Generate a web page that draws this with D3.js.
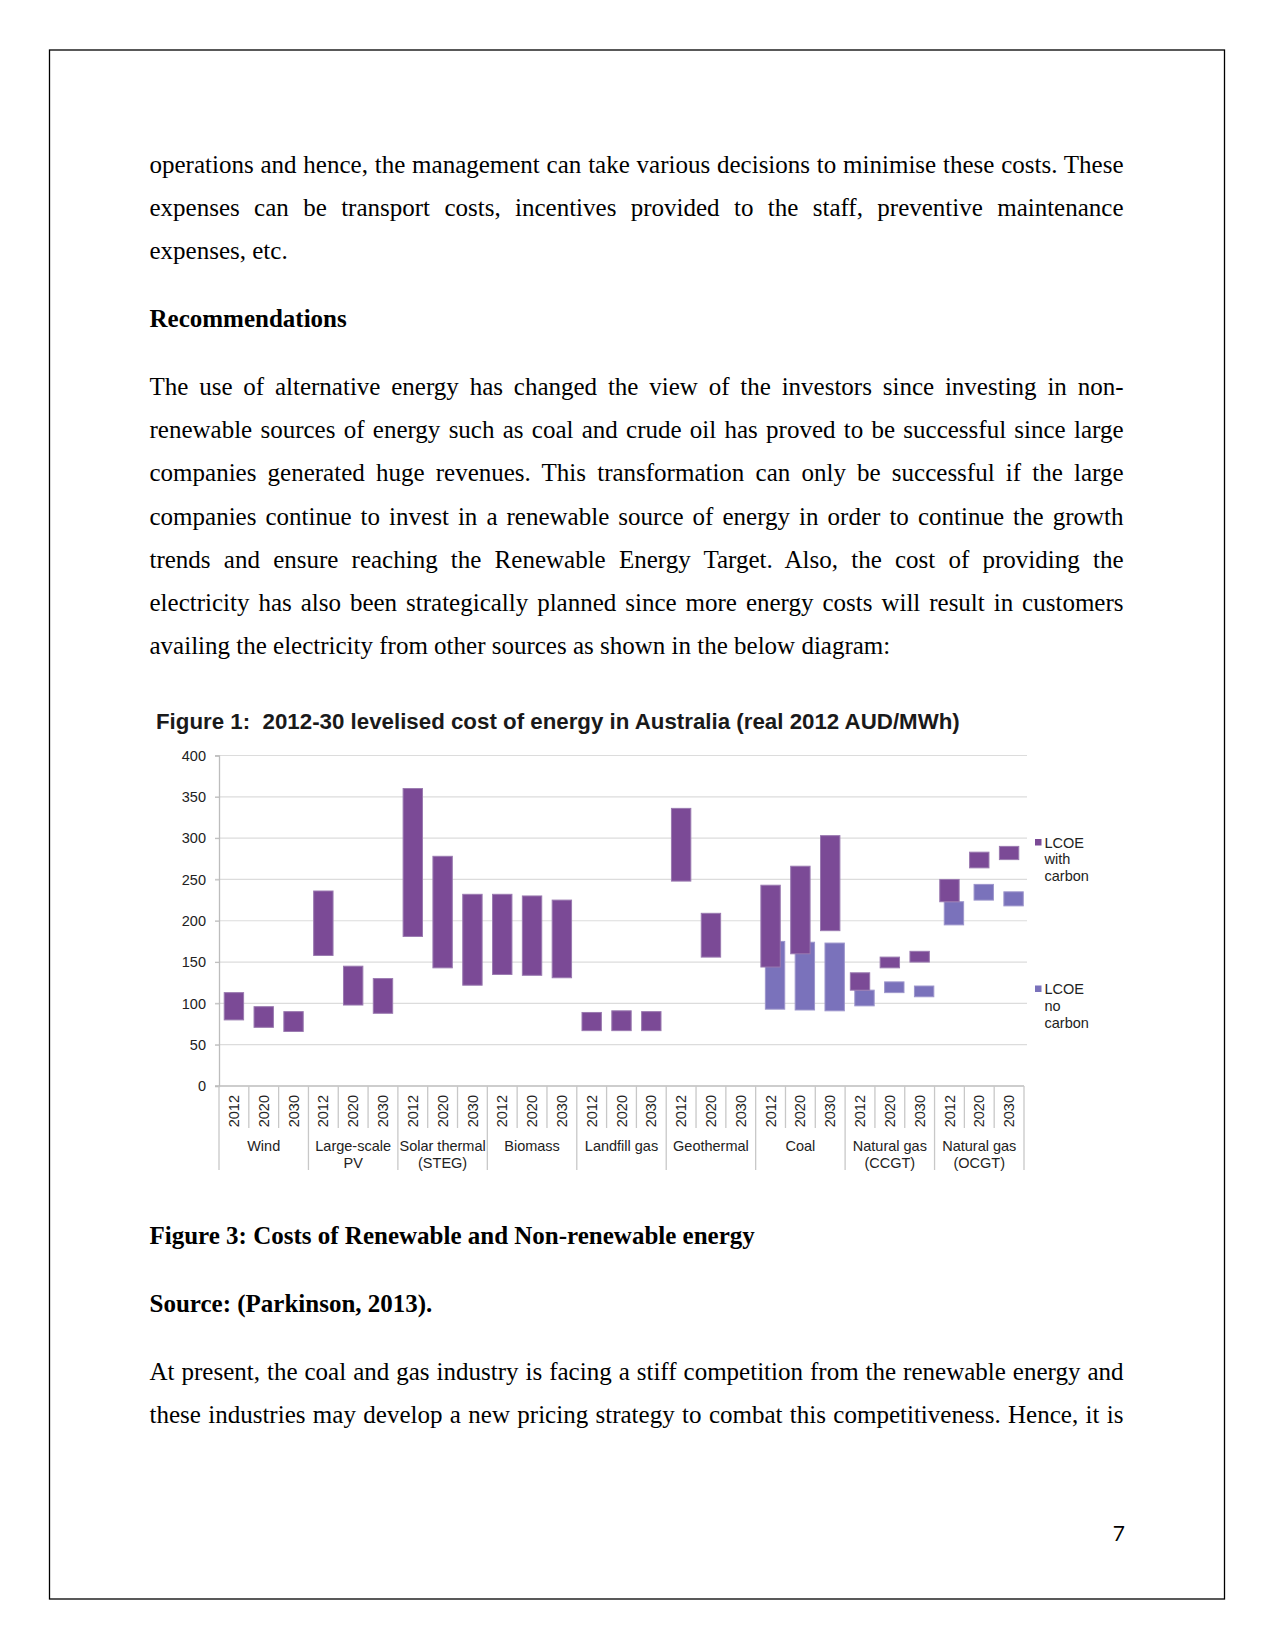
<!DOCTYPE html>
<html>
<head>
<meta charset="utf-8">
<script src="https://cdn.jsdelivr.net/npm/d3@7"></script>
<style>
  html, body { margin: 0; padding: 0; background: #fff; }
  svg { display: block; }
</style>
</head>
<body>
<svg id="page" width="1275" height="1651"></svg>
<script>
// ---------------- DATA ----------------
const groups = ["Wind", "Large-scale\nPV", "Solar thermal\n(STEG)", "Biomass", "Landfill gas",
                "Geothermal", "Coal", "Natural gas\n(CCGT)", "Natural gas\n(OCGT)"];
const years = ["2012", "2020", "2030"];

// LCOE with carbon (low / high), one per group-year, null = no bar
const withCarbonLow  = [80, 71, 66,  158, 98, 88,  181, 143, 122,  135, 134, 131,  67, 67, 67,
                        248, 156, null,  144, 160, 188,  116, 143, 150,  223, 264, 274];
const withCarbonHigh = [113, 96, 90,  236, 145, 130,  360, 278, 232,  232, 230, 225,  89, 91, 90,
                        336, 209, null,  243, 266, 303,  137, 156, 163,  250, 283, 290];
// LCOE no carbon (low / high)
const noCarbonLow  = [null, null, null, null, null, null, null, null, null, null, null, null, null, null, null,
                      null, null, null,  93, 92, 91,  97, 113, 108,  195, 225, 218];
const noCarbonHigh = [null, null, null, null, null, null, null, null, null, null, null, null, null, null, null,
                      null, null, null,  175, 174, 173,  116, 126, 121,  223, 244, 235];

const yTicks = [0, 50, 100, 150, 200, 250, 300, 350, 400];
const chartTitle = "Figure 1:  2012-30 levelised cost of energy in Australia (real 2012 AUD/MWh)";
const legendWith = ["LCOE", "with", "carbon"];
const legendNo = ["LCOE", "no", "carbon"];

// Document text
const para1 = [
  "operations and hence, the management can take various decisions to minimise these costs. These",
  "expenses can be transport costs, incentives provided to the staff, preventive maintenance",
  "expenses, etc."
];
const heading = "Recommendations";
const para2 = [
  "The use of alternative energy has changed the view of the investors since investing in non-",
  "renewable sources of energy such as coal and crude oil has proved to be successful since large",
  "companies generated huge revenues. This transformation can only be successful if the large",
  "companies continue to invest in a renewable source of energy in order to continue the growth",
  "trends and ensure reaching the Renewable Energy Target. Also, the cost of providing the",
  "electricity has also been strategically planned since more energy costs will result in customers",
  "availing the electricity from other sources as shown in the below diagram:"
];
const caption = "Figure 3: Costs of Renewable and Non-renewable energy";
const source = "Source: (Parkinson, 2013).";
const para3 = [
  "At present, the coal and gas industry is facing a stiff competition from the renewable energy and",
  "these industries may develop a new pricing strategy to combat this competitiveness. Hence, it is"
];
const pageNumber = "7";

// ---------------- PAGE ----------------
const svg = d3.select("#page");
svg.append("rect").attr("x", 49.5).attr("y", 50).attr("width", 1175).attr("height", 1549)
  .attr("fill", "none").attr("stroke", "#000").attr("stroke-width", 1.3);

const textLeft = 149.5, textRight = 1123.5;
const serif = "'Liberation Serif', 'Times New Roman', serif";

function textLine(str, y, justify, bold) {
  const t = svg.append("text").attr("x", textLeft).attr("y", y)
    .style("font-family", serif).style("font-size", "25px")
    .style("font-weight", bold ? "bold" : "normal").attr("fill", "#000")
    .text(str);
  if (justify) {
    const natural = t.node().getComputedTextLength();
    const spaces = (str.match(/ /g) || []).length;
    if (spaces > 0) t.attr("word-spacing", (textRight - textLeft - natural) / spaces);
  }
  return t;
}
function paragraph(lines, y0, step) {
  lines.forEach((l, i) => textLine(l, y0 + i * step, i < lines.length - 1, false));
}
paragraph(para1, 173, 43.2);
textLine(heading, 327, false, true);
paragraph(para2, 395, 43.2);
textLine(caption, 1244, false, true);
textLine(source, 1312, false, true);
para3.forEach((l, i) => textLine(l, 1380 + i * 43.2, true, false));

svg.append("text").attr("x", 1125).attr("y", 1541).attr("text-anchor", "end")
  .style("font-family", "Lato, 'Open Sans', sans-serif").style("font-size", "21px")
  .attr("fill", "#000").text(pageNumber);

// ---------------- CHART ----------------
const sans = "'Liberation Sans', Arial, sans-serif";
const g = svg.append("g");
const x0 = 219, x1 = 1024, yBase = 1086, yTop = 755.5;

const cats = [];
groups.forEach((gr, gi) => years.forEach((yr, yi) => cats.push({ gi, yi, key: gi + "-" + yr })));

const x = d3.scaleBand().domain(cats.map(c => c.key)).range([x0, x1]).padding(0);
const y = d3.scaleLinear().domain([0, 400]).range([yBase, yTop]);
const step = x.step();
const bw = step * 0.65;

// title
g.append("text").attr("x", 156).attr("y", 729)
  .style("font-family", sans).style("font-size", "22.3px").style("font-weight", "bold")
  .style("white-space", "pre").attr("xml:space", "preserve")
  .attr("fill", "#1a1a1a").text(chartTitle);

// gridlines
g.append("g").selectAll("line").data(yTicks.filter(d => d > 0)).join("line")
  .attr("x1", x0 - 4).attr("x2", 1027).attr("y1", d => y(d)).attr("y2", d => y(d))
  .attr("stroke", "#dcdcdc").attr("stroke-width", 1.2);

// y axis
const yAxis = d3.axisLeft(y).tickValues(yTicks).tickSize(4).tickPadding(9);
const ya = g.append("g").attr("transform", `translate(${x0},0)`).call(yAxis);
ya.select(".domain").attr("stroke", "#bdbdbd").attr("stroke-width", 1.3);
ya.selectAll(".tick line").attr("stroke", "#bdbdbd");
ya.selectAll(".tick text").style("font-family", sans).style("font-size", "14.5px").attr("fill", "#222");

// x axis baseline
g.append("line").attr("x1", x0 - 4).attr("x2", x1).attr("y1", yBase).attr("y2", yBase)
  .attr("stroke", "#bdbdbd").attr("stroke-width", 1.3);

// category separators
const bounds = d3.range(cats.length + 1);
g.append("g").selectAll("line").data(bounds).join("line")
  .attr("x1", i => x0 + i * step).attr("x2", i => x0 + i * step)
  .attr("y1", yBase).attr("y2", i => (i % 3 === 0) ? 1170 : 1128)
  .attr("stroke", "#c8c8c8").attr("stroke-width", 1.3);

// year labels
g.append("g").selectAll("text").data(cats).join("text")
  .attr("transform", c => `translate(${x(c.key) + step / 2},1095) rotate(-90)`)
  .attr("text-anchor", "end").attr("dy", "0.35em")
  .style("font-family", sans).style("font-size", "14.5px").attr("fill", "#222")
  .text(c => years[c.yi]);

// group labels
groups.forEach((gr, gi) => {
  const cx = x0 + (gi * 3 + 1.5) * step;
  gr.split("\n").forEach((ln, li) => {
    g.append("text").attr("x", cx).attr("y", 1150.5 + li * 17).attr("text-anchor", "middle")
      .style("font-family", sans).style("font-size", "14.5px").attr("fill", "#222").text(ln);
  });
});

const colWith = "#7b4a96", colNo = "#7a72bb";
const edgeWith = "#9a7ab0", edgeNo = "#9d96cc";

// no carbon bars (behind), offset right
g.append("g").selectAll("rect").data(cats.map((c, i) => ({ c, lo: noCarbonLow[i], hi: noCarbonHigh[i] }))
  .filter(d => d.lo != null)).join("rect")
  .attr("x", d => x(d.c.key) + (step - bw) / 2 + step * 0.15)
  .attr("width", bw)
  .attr("y", d => y(d.hi)).attr("height", d => y(d.lo) - y(d.hi))
  .attr("fill", colNo).attr("stroke", edgeNo).attr("stroke-width", 1);

// with carbon bars
g.append("g").selectAll("rect").data(cats.map((c, i) => ({ c, lo: withCarbonLow[i], hi: withCarbonHigh[i] }))
  .filter(d => d.lo != null)).join("rect")
  .attr("x", d => x(d.c.key) + (step - bw) / 2)
  .attr("width", bw)
  .attr("y", d => y(d.hi)).attr("height", d => y(d.lo) - y(d.hi))
  .attr("fill", colWith).attr("stroke", edgeWith).attr("stroke-width", 1);

// legend
function legend(lines, markerY, baseY, color) {
  g.append("rect").attr("x", 1035).attr("y", markerY).attr("width", 6.5).attr("height", 6.5).attr("fill", color);
  lines.forEach((ln, i) => g.append("text").attr("x", 1044.5).attr("y", baseY + i * 16.8)
    .style("font-family", sans).style("font-size", "14.5px").attr("fill", "#222").text(ln));
}
legend(legendWith, 839, 847.5, colWith);
legend(legendNo, 985.5, 994, colNo);
</script>
</body>
</html>
